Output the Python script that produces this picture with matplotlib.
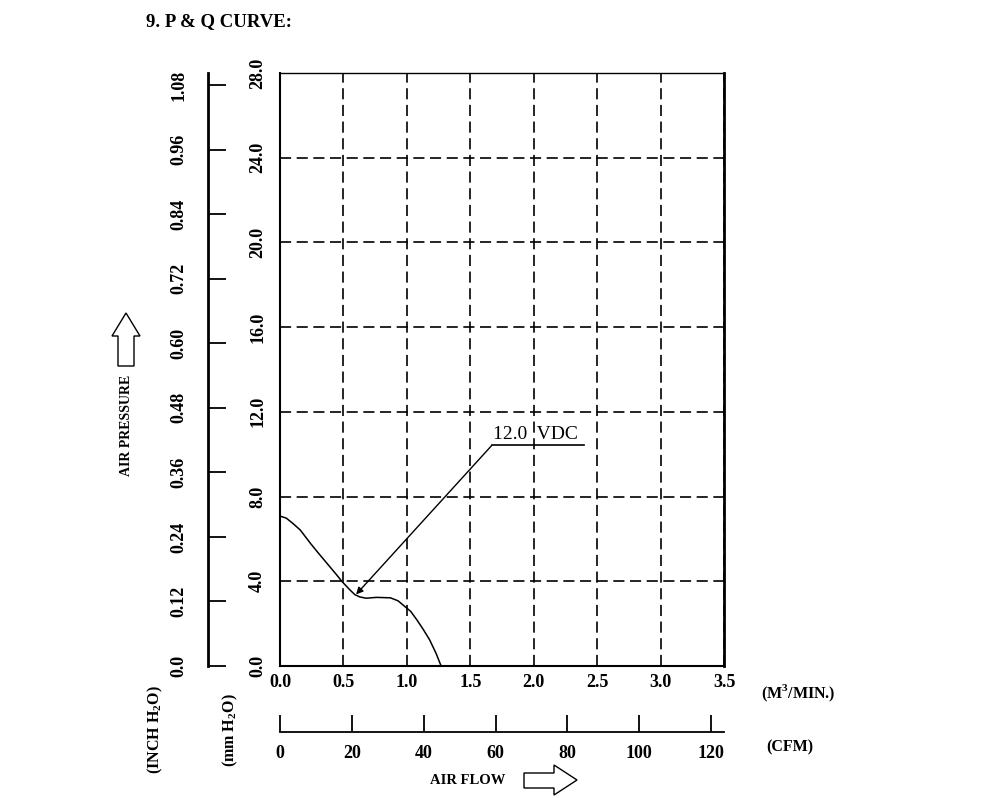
import matplotlib.pyplot as plt
import matplotlib.patches as mpatches

plt.rcParams['font.family'] = ['Liberation Serif', 'DejaVu Serif']
plt.rcParams['font.weight'] = 'bold'
plt.rcParams['mathtext.fontset'] = 'custom'
plt.rcParams['mathtext.rm'] = 'Liberation Serif:bold'
plt.rcParams['lines.scale_dashes'] = False

# P & Q curve at 12.0 VDC: air flow (m3/min) vs static pressure (mm H2O)
flow_cmm = [0.0, 0.05, 0.10, 0.16, 0.24, 0.30, 0.37, 0.44, 0.49, 0.55, 0.59,
            0.63, 0.68, 0.76, 0.87, 0.93, 0.97, 1.03, 1.08, 1.13, 1.18, 1.23, 1.27]
pressure_mm = [7.08, 6.98, 6.74, 6.42, 5.79, 5.35, 4.85, 4.35, 3.98, 3.60, 3.37,
               3.26, 3.20, 3.24, 3.22, 3.08, 2.88, 2.58, 2.17, 1.72, 1.23, 0.60, 0.0]

flow_ticks = [0.0, 0.5, 1.0, 1.5, 2.0, 2.5, 3.0, 3.5]
mm_ticks = [0.0, 4.0, 8.0, 12.0, 16.0, 20.0, 24.0, 28.0]
inch_ticks = [0.0, 0.12, 0.24, 0.36, 0.48, 0.60, 0.72, 0.84, 0.96, 1.08]
cfm_ticks = [0, 20, 40, 60, 80, 100, 120]

curve_label = "12.0  VDC"
label_tip = (0.60, 3.38)      # where the leader arrow points
label_elbow = (1.67, 10.42)   # start of the underline
label_end = 2.40              # end of the underline

MM_PER_INCH = 25.4
CMM_PER_CFM = 0.0283168

W, H = 1000, 798
fig = plt.figure(figsize=(W / 100, H / 100), dpi=100)


def box(x0, y0, x1, y1):
    # pixel box (origin top-left) -> figure rect
    return [x0 / W, 1 - y1 / H, (x1 - x0) / W, (y1 - y0) / H]


def fig_xy(x, y):
    return (x / W, 1 - y / H)


FS = 13

# --- main chart (m3/min vs mm H2O) ---
ax = fig.add_axes(box(280, 73, 724, 666))
ax.plot(flow_cmm, pressure_mm, color='black', lw=1.1)
ax.set_xlim(flow_ticks[0], flow_ticks[-1])
ax.set_ylim(mm_ticks[0], mm_ticks[-1])
ax.set_xticks(flow_ticks)
ax.set_xticklabels([f"{v:.1f}" for v in flow_ticks])
ax.set_yticks(mm_ticks)
ax.set_yticklabels([f"{v:.1f}" for v in mm_ticks])
ax.tick_params(axis='both', length=0, labelsize=FS)
ax.tick_params(axis='x', pad=6)
ax.tick_params(axis='y', pad=10, labelrotation=90)
for t in ax.get_yticklabels():
    t.set_va('center')
ax.grid(True, color='black', linestyle=(0, (8, 4)), linewidth=1.2)
ax.spines['top'].set_linewidth(1.0)
ax.spines['left'].set_linewidth(1.5)
ax.spines['bottom'].set_linewidth(1.5)
ax.spines['right'].set_linewidth(2.0)

# leader and curve label
ax.plot([label_elbow[0], label_end], [label_elbow[1], label_elbow[1]],
        color='black', lw=1.2)
ax.annotate('', xy=label_tip, xytext=label_elbow,
            arrowprops=dict(arrowstyle='-|>', color='black', lw=1.0,
                            mutation_scale=10, shrinkA=0, shrinkB=0))
ax.annotate(curve_label, xy=label_elbow, xytext=(1, 2),
            textcoords='offset points', ha='left', va='bottom', fontsize=14,
            fontweight='normal')

# --- inch H2O scale ---
ax_in = fig.add_axes(box(208, 73, 209, 666))
ax_in.set_ylim(mm_ticks[0] / MM_PER_INCH, mm_ticks[-1] / MM_PER_INCH)
ax_in.set_yticks(inch_ticks)
ax_in.set_yticklabels([f"{v:.2f}" if v else "0.0" for v in inch_ticks])
ax_in.set_xticks([])
for side in ['top', 'right', 'bottom']:
    ax_in.spines[side].set_visible(False)
ax_in.spines['left'].set_linewidth(2.0)
ax_in.tick_params(axis='y', direction='in', length=13, width=1.3,
                  labelsize=FS, pad=15, labelrotation=90)
for t in ax_in.get_yticklabels():
    t.set_va('center')
ax_in.patch.set_visible(False)

# --- CFM scale ---
ax_cfm = fig.add_axes(box(280, 731, 724, 732))
ax_cfm.set_xlim(flow_ticks[0] / CMM_PER_CFM, flow_ticks[-1] / CMM_PER_CFM)
ax_cfm.set_xticks(cfm_ticks)
ax_cfm.set_xticklabels([str(v) for v in cfm_ticks])
ax_cfm.set_yticks([])
for side in ['top', 'right', 'left']:
    ax_cfm.spines[side].set_visible(False)
ax_cfm.spines['bottom'].set_linewidth(1.3)
ax_cfm.tick_params(axis='x', direction='in', length=12, width=1.3,
                   labelsize=FS, pad=9)
ax_cfm.patch.set_visible(False)

# --- texts ---
fig.text(*fig_xy(146, 22), "9. P & Q CURVE:", fontsize=13.5,
         ha='left', va='center')
fig.text(*fig_xy(127, 425), "AIR PRESSURE", fontsize=10, rotation=90,
         ha='center', va='center')
fig.text(*fig_xy(468, 780), "AIR FLOW", fontsize=10.5, ha='center',
         va='center')
fig.text(*fig_xy(155, 730), r"(INCH H$_\mathregular{2}$O)", fontsize=11.5,
         rotation=90, ha='center', va='center')
fig.text(*fig_xy(230, 730), r"(mm H$_\mathregular{2}$O)", fontsize=11.5,
         rotation=90, ha='center', va='center')
fig.text(*fig_xy(798, 693), r"(M$^\mathregular{3}$/MIN.)", fontsize=11.5,
         ha='center', va='center')
fig.text(*fig_xy(790, 747), "(CFM)", fontsize=11.5, ha='center', va='center')

# outline block arrows
up_arrow = [(126, 313), (140, 336), (134, 336), (134, 366), (118, 366),
            (118, 336), (112, 336)]
right_arrow = [(524, 773), (554, 773), (554, 765), (577, 780), (554, 795),
               (554, 788), (524, 788)]
for pts in (up_arrow, right_arrow):
    fig.patches.append(mpatches.Polygon([fig_xy(x, y) for x, y in pts],
                                        closed=True, fill=False,
                                        edgecolor='black', lw=1.0,
                                        transform=fig.transFigure, figure=fig))

fig.savefig("out.png", dpi=100)
